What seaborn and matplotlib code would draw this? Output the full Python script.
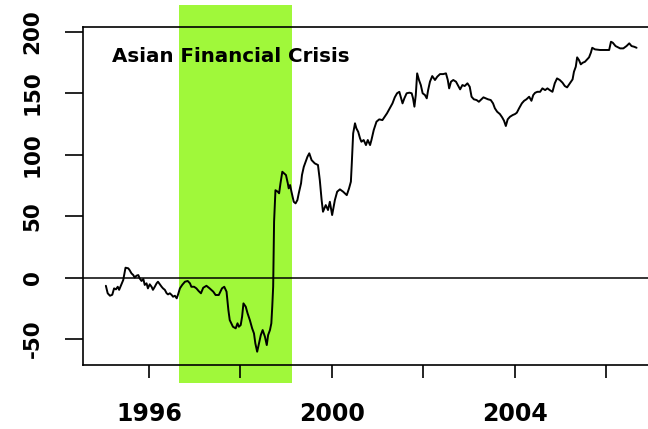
import matplotlib
matplotlib.use("Agg")
import matplotlib.pyplot as plt
import seaborn as sns
import pandas as pd

# ---- data (decimal year, index value) ----
years = [
    1995.06, 1995.10, 1995.15, 1995.20, 1995.24, 1995.28, 1995.32, 1995.35, 1995.40, 1995.44,
    1995.49, 1995.55, 1995.58, 1995.62, 1995.66, 1995.69, 1995.73, 1995.77, 1995.80, 1995.84,
    1995.88, 1995.91, 1995.95, 1995.98, 1996.02, 1996.06, 1996.09, 1996.13, 1996.17, 1996.20,
    1996.24, 1996.28, 1996.31, 1996.35, 1996.39, 1996.42, 1996.46, 1996.50, 1996.53, 1996.57,
    1996.61, 1996.64, 1996.68, 1996.73, 1996.79, 1996.85, 1996.90, 1996.93, 1996.99, 1997.04,
    1997.09, 1997.14, 1997.19, 1997.26, 1997.33, 1997.41, 1997.46, 1997.53, 1997.60, 1997.65,
    1997.70, 1997.74, 1997.77, 1997.84, 1997.90, 1997.94, 1997.97, 1998.01, 1998.04, 1998.07,
    1998.12, 1998.16, 1998.21, 1998.26, 1998.30, 1998.33, 1998.37, 1998.41, 1998.45, 1998.49,
    1998.54, 1998.58, 1998.61, 1998.65, 1998.68, 1998.70, 1998.72, 1998.74, 1998.76, 1998.77,
    1998.82, 1998.85, 1998.88, 1998.92, 1998.96, 1999.00, 1999.04, 1999.06, 1999.09, 1999.12,
    1999.17, 1999.21, 1999.25, 1999.28, 1999.33, 1999.35, 1999.39, 1999.43, 1999.47, 1999.51,
    1999.56, 1999.63, 1999.70, 1999.74, 1999.78, 1999.81, 1999.87, 1999.92, 1999.96, 2000.01,
    2000.07, 2000.12, 2000.18, 2000.25, 2000.33, 2000.38, 2000.42, 2000.44, 2000.47, 2000.51,
    2000.54, 2000.58, 2000.62, 2000.65, 2000.70, 2000.75, 2000.79, 2000.84, 2000.87, 2000.92,
    2000.98, 2001.04, 2001.11, 2001.16, 2001.21, 2001.27, 2001.33, 2001.38, 2001.43, 2001.48,
    2001.51, 2001.55, 2001.59, 2001.64, 2001.70, 2001.75, 2001.78, 2001.81, 2001.84, 2001.87,
    2001.91, 2001.95, 2001.99, 2002.04, 2002.08, 2002.11, 2002.15, 2002.20, 2002.26, 2002.31,
    2002.37, 2002.44, 2002.50, 2002.54, 2002.57, 2002.61, 2002.66, 2002.72, 2002.77, 2002.81,
    2002.86, 2002.91, 2002.97, 2003.02, 2003.06, 2003.11, 2003.17, 2003.22, 2003.26, 2003.32,
    2003.37, 2003.42, 2003.48, 2003.53, 2003.57, 2003.62, 2003.68, 2003.73, 2003.77, 2003.81,
    2003.85, 2003.90, 2003.96, 2004.01, 2004.05, 2004.10, 2004.16, 2004.21, 2004.26, 2004.32,
    2004.37, 2004.41, 2004.45, 2004.50, 2004.56, 2004.61, 2004.67, 2004.72, 2004.77, 2004.83,
    2004.88, 2004.93, 2004.99, 2005.05, 2005.10, 2005.15, 2005.21, 2005.27, 2005.30, 2005.34,
    2005.37, 2005.41, 2005.45, 2005.49, 2005.54, 2005.59, 2005.63, 2005.67, 2005.70, 2005.76,
    2005.87, 2005.98, 2006.07, 2006.11, 2006.15, 2006.21, 2006.31, 2006.38, 2006.45, 2006.51,
    2006.56, 2006.62, 2006.67,
]
values = [
    -6.7, -12.8, -14.8, -14.0, -8.8, -9.6, -7.5, -10.0, -5.5, -2.0,
    8.0, 7.5, 6.0, 3.4, 2.0, 0.0, 1.5, 2.0, -0.7, -2.8,
    -1.2, -6.0, -4.7, -8.8, -5.5, -7.5, -10.0, -7.5, -4.7, -3.4,
    -5.5, -7.5, -8.8, -10.0, -12.8, -13.7, -12.8, -14.2, -15.6, -14.8,
    -16.9, -13.7, -8.8, -6.0, -3.4, -2.8, -4.7, -7.5, -7.5, -8.8,
    -11.0, -12.8, -8.3, -6.7, -8.8, -11.5, -14.2, -14.2, -8.8, -7.5,
    -11.5, -26.4, -34.6, -40.0, -41.3, -37.2, -40.0, -38.6, -31.9, -21.0,
    -23.7, -29.1, -34.6, -41.3, -45.4, -53.5, -60.3, -53.5, -46.7, -42.7,
    -48.1, -54.9, -46.7, -42.7, -37.2, -23.7, -7.5, 45.4, 63.0, 71.0,
    69.8, 68.5, 76.6, 86.0, 84.7, 83.3, 76.6, 72.5, 75.2, 69.8,
    61.6, 60.3, 63.0, 68.5, 76.6, 83.3, 90.0, 94.1, 98.2, 101.0,
    95.5, 92.8, 91.5, 79.3, 63.0, 53.5, 58.9, 54.9, 61.6, 50.8,
    63.0, 69.8, 71.7, 69.8, 67.0, 72.5, 77.9, 92.8, 117.2, 125.4,
    121.3, 118.5, 113.2, 110.4, 111.8, 107.7, 111.8, 107.7, 111.8, 119.9,
    126.7, 128.6, 128.0, 130.7, 133.5, 137.6, 141.6, 146.5, 149.8, 151.0,
    147.0, 141.6, 145.7, 149.8, 150.3, 149.8, 145.7, 138.9, 148.4, 166.0,
    160.6, 156.5, 149.8, 148.4, 145.7, 152.4, 159.2, 163.8, 160.6, 163.3,
    165.4, 165.4, 166.0, 160.6, 153.8, 159.2, 160.6, 159.2, 155.7, 153.0,
    156.5, 155.7, 157.9, 155.1, 147.0, 144.9, 144.3, 142.9, 144.3, 146.5,
    145.7, 144.9, 144.3, 141.6, 137.6, 134.8, 132.9, 130.2, 127.5, 123.2,
    128.6, 130.7, 132.1, 132.9, 134.0, 137.6, 141.6, 143.7, 144.9, 147.0,
    143.7, 148.4, 150.2, 151.0, 151.0, 153.8, 152.4, 153.8, 152.4, 151.0,
    157.9, 161.9, 160.6, 158.4, 155.7, 154.6, 157.9, 161.1, 167.3, 171.4,
    179.0, 176.8, 173.3, 174.6, 175.4, 177.4, 179.0, 182.8, 186.8, 185.5,
    185.0, 185.0, 185.0, 191.7, 190.9, 188.2, 186.3, 186.3, 188.2, 190.4,
    188.2, 187.6, 186.8,
]
crisis_start, crisis_end = 1996.65, 1999.13
annotation = "Asian Financial Crisis"
x_ticks = [1996, 1998, 2000, 2002, 2004, 2006]
x_ticklabels = ["1996", "", "2000", "", "2004", ""]
y_ticks = [-50, 0, 50, 100, 150, 200]
y_ticklabels = ["-50", "0", "50", "100", "150", "200"]

df = pd.DataFrame({"year": years, "value": values})

sns.set_style("ticks")
plt.rcParams["font.family"] = ["DejaVu Sans"]

fig = plt.figure(figsize=(6.48, 4.29), dpi=100)
ax = fig.add_axes([0.1281, 0.1492, 0.8719, 0.7879])

ax.set_xlim(1994.56, 2006.92)
ax.set_ylim(-71.1, 203.7)

# crisis band (extends past the plot box like the original)
ax.fill_between([crisis_start, crisis_end], [-85.8, -85.8], [221.5, 221.5],
                color="#a0f83a", lw=0, zorder=0, clip_on=False)

ax.axhline(0, color="black", lw=1.1, zorder=1)
sns.lineplot(data=df, x="year", y="value", ax=ax, color="black", lw=1.4,
             estimator=None, sort=False, zorder=2)

ax.text(1995.19, 180, annotation, fontsize=14.3, fontweight="bold",
        ha="left", va="center", color="black", zorder=3)

ax.set_xticks(x_ticks)
ax.set_xticklabels(x_ticklabels)
ax.set_yticks(y_ticks)
ax.set_yticklabels(y_ticklabels, rotation=90, va="center")
ax.tick_params(axis="x", bottom=True, top=False, direction="out", length=9.4,
               width=1.2, pad=17, labelsize=17, color="black", labelcolor="black")
ax.tick_params(axis="y", left=True, right=False, direction="out", length=13,
               width=1.2, pad=16, labelsize=15.5, color="black", labelcolor="black")
for lab in ax.get_xticklabels() + ax.get_yticklabels():
    lab.set_fontweight("bold")
ax.set_xlabel("")
ax.set_ylabel("")

for side in ["left", "bottom", "top"]:
    ax.spines[side].set_visible(True)
    ax.spines[side].set_color("black")
    ax.spines[side].set_linewidth(1.2)
ax.spines["right"].set_visible(False)
ax.set_facecolor("white")
fig.patch.set_facecolor("white")

fig.savefig("out.png", dpi=100)
